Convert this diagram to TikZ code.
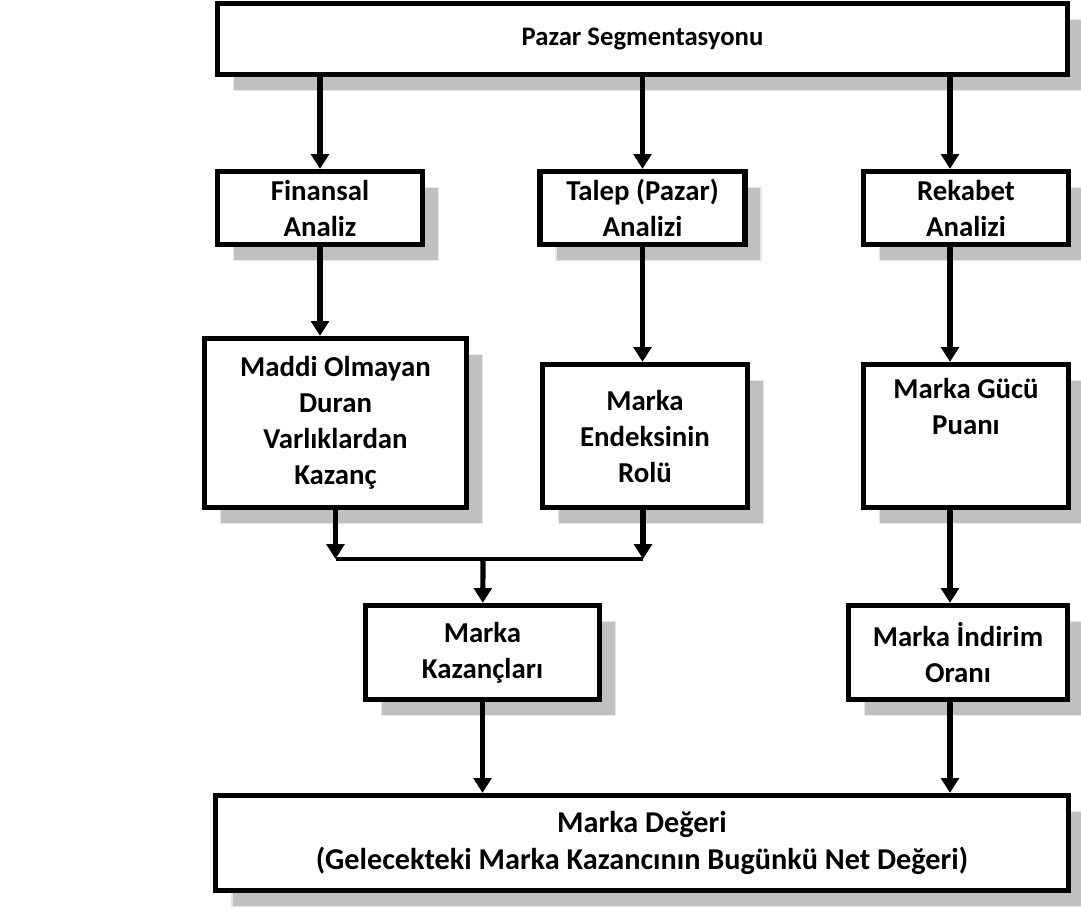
\documentclass[tikz,border=0pt]{standalone}
\usepackage{fontspec}
\setmainfont{Carlito}
\usepackage{xcolor}
\definecolor{boxshadow}{RGB}{192,192,192}
\definecolor{shadowedge}{RGB}{230,230,230}
\usetikzlibrary{arrows.meta, shadows}

\tikzset{
  box/.style={draw=black, line width=3.7pt, fill=white, align=center, inner sep=0pt,
    font=\bfseries\fontsize{20.5}{25.6}\selectfont,
    copy shadow={shadow xshift=0.4cm, shadow yshift=-0.4cm, fill=boxshadow, draw=shadowedge, line width=1pt}},
  arr/.style={line width=3.7pt, -{Triangle[length=0.37cm, width=0.44cm]}},
  joinline/.style={line width=2.6pt}
}

\begin{document}
\begin{tikzpicture}[x=0.025cm, y=-0.025cm]
      \useasboundingbox (0,0) rectangle (1081,913);
      % Top row
      \node[box, minimum width=21.25cm, minimum height=1.775cm, font=\bfseries\fontsize{19}{24}\selectfont] (pazar) at (642.5,39) {Pazar Segmentasyonu};
      \node[box, minimum width=5.125cm, minimum height=1.825cm] (finansal) at (320,208) {Finansal\\Analiz};
      \node[box, minimum width=5.125cm, minimum height=1.825cm] (talep) at (642.5,208) {Talep (Pazar)\\Analizi};
      \node[box, minimum width=5.125cm, minimum height=1.825cm] (rekabet) at (966,208) {Rekabet\\Analizi};
      % Middle row
      \node[box, minimum width=6.55cm, minimum height=4.225cm] (maddi) at (335.5,423) {Maddi Olmayan\\Duran\\Varlıklardan\\Kazanç};
      \node[box, minimum width=5.125cm, minimum height=3.575cm] (endeks) at (645,436) {Marka\\Endeksinin\\Rolü};
      \node[box, minimum width=5.125cm, minimum height=3.575cm] (guc) at (966,436) {Marka Gücü\\Puanı\\[0.6cm]\mbox{}};
      % Lower row
      \node[box, minimum width=5.85cm, minimum height=2.35cm] (kazanc) at (482.5,652.5) {Marka\\Kazançları};
      \node[box, minimum width=5.475cm, minimum height=2.35cm] (indirim) at (958,652.5) {Marka İndirim\\Oranı};
      \node[box, minimum width=21.3cm, minimum height=2.375cm, font=\bfseries\fontsize{21.5}{26.5}\selectfont] (deger) at (642,843) {Marka Değeri\\(Gelecekteki Marka Kazancının Bugünkü Net Değeri)};
      % Right column and junction points
      \coordinate (sag) at (950,0);
      \coordinate (birsol) at (335.5,559);
      \coordinate (birsag) at (643,559);
      \coordinate (birorta) at (483,559);
      % Arrows
      \draw[arr] (pazar.south -| finansal) -- (finansal);
      \draw[arr] (pazar.south -| talep) -- (talep);
      \draw[arr] (pazar.south -| sag) -- (rekabet.north -| sag);
      \draw[arr] (finansal.south) -- (finansal.south |- maddi.north);
      \draw[arr] (talep.south) -- (talep.south |- endeks.north);
      \draw[arr] (rekabet.south -| sag) -- (guc.north -| sag);
      \draw[arr] (maddi.south) -- (birsol);
      \draw[arr] (endeks.south -| birsag) -- (birsag);
      \draw[joinline] (birsol) -- (birsag);
      \draw[arr] (birorta) -- (kazanc);
      \draw[arr] (guc.south -| sag) -- (indirim.north -| sag);
      \draw[arr] (kazanc.south) -- (kazanc.south |- deger.north);
      \draw[arr] (indirim.south -| sag) -- (deger.north -| sag);
\end{tikzpicture}
\end{document}
